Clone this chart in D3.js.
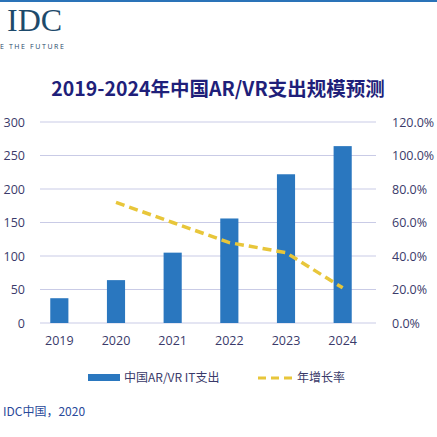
<!DOCTYPE html><html><head><meta charset="utf-8"><script src="https://cdn.jsdelivr.net/npm/d3@7"></script>
<style>body{margin:0;background:#fff}text{font-family:"Open Sans","Noto Sans CJK SC",sans-serif}</style></head><body><svg id="c" width="437" height="437"></svg><script>
const years=["2019","2020","2021","2022","2023","2024"];
const spend=[37,64,105,156,222,264];
const growth=[null,0.72,0.60,0.48,0.42,0.21];
const leftTicks=[0,50,100,150,200,250,300];
const rightTicks=[0,0.2,0.4,0.6,0.8,1.0,1.2];
const svg=d3.select("#c");
const cjk='"Noto Sans CJK SC",sans-serif';
svg.append("rect").attr("x",0).attr("y",0).attr("width",437).attr("height",2).attr("fill","#2a73b8");
svg.append("text").attr("x",7).attr("y",31).style("font-family","'Liberation Serif',serif").attr("font-size",32).attr("fill","#1d4a6b").text("IDC");
svg.append("text").attr("x",0).attr("y",49).attr("font-size",7).attr("letter-spacing",1.6).attr("fill","#1d4a6b").text("E THE FUTURE");
svg.append("text").attr("x",218).attr("y",96).attr("text-anchor","middle").attr("font-size",19.5).attr("font-weight","bold").attr("fill","#1f1f7a").style("font-family",cjk).text("2019-2024年中国AR/VR支出规模预测");
const x=d3.scaleBand().domain(years).range([31,371]).paddingInner(0.68).paddingOuter(0.34);
const y=d3.scaleLinear().domain([0,300]).range([323,122]);
const y2=d3.scaleLinear().domain([0,1.2]).range([323,122]);
const g=svg.append("g");
leftTicks.forEach(t=>g.append("line").attr("x1",40).attr("x2",376).attr("y1",y(t)).attr("y2",y(t)).attr("stroke","#c9cbe6").attr("stroke-width",1));
const ax=svg.append("g").attr("transform","translate(28,0)").call(d3.axisLeft(y).tickValues(leftTicks).tickSize(0));
ax.select(".domain").remove();ax.selectAll("text").attr("font-size",12.5).attr("fill","#3a3a6a");
const ax2=svg.append("g").attr("transform","translate(389,0)").call(d3.axisRight(y2).tickValues(rightTicks).tickSize(0).tickFormat(d3.format(".1%")));
ax2.select(".domain").remove();ax2.selectAll("text").attr("font-size",12.5).attr("fill","#3a3a6a");
const ax3=svg.append("g").attr("transform","translate(0,333)").call(d3.axisBottom(x).tickSize(0));
ax3.select(".domain").remove();ax3.selectAll("text").attr("font-size",12.5).attr("fill","#3a3a6a");
svg.selectAll(".bar").data(spend).enter().append("rect").attr("x",(d,i)=>x(years[i])).attr("y",d=>y(d)).attr("width",x.bandwidth()).attr("height",d=>323-y(d)).attr("fill","#2a77bf");
const line=d3.line().defined(d=>d!=null).x((d,i)=>x(years[i])+x.bandwidth()/2).y(d=>y2(d));
svg.append("path").datum(growth).attr("d",line).attr("fill","none").attr("stroke","#e8c63a").attr("stroke-width",3.5).attr("stroke-dasharray","9,5");
svg.append("rect").attr("x",88).attr("y",374).attr("width",32).attr("height",7).attr("fill","#2a77bf");
svg.append("text").attr("x",124).attr("y",382).attr("font-size",12).attr("fill","#3a3a6a").style("font-family",cjk).text("中国AR/VR IT支出");
svg.append("line").attr("x1",258).attr("x2",292).attr("y1",378).attr("y2",378).attr("stroke","#e8c63a").attr("stroke-width",3).attr("stroke-dasharray","8,5");
svg.append("text").attr("x",297).attr("y",382).attr("font-size",12).attr("fill","#3a3a6a").style("font-family",cjk).text("年增长率");
svg.append("text").attr("x",3).attr("y",416).attr("font-size",12).attr("fill","#2a4a9a").style("font-family",cjk).text("IDC中国，2020");
</script></body></html>
